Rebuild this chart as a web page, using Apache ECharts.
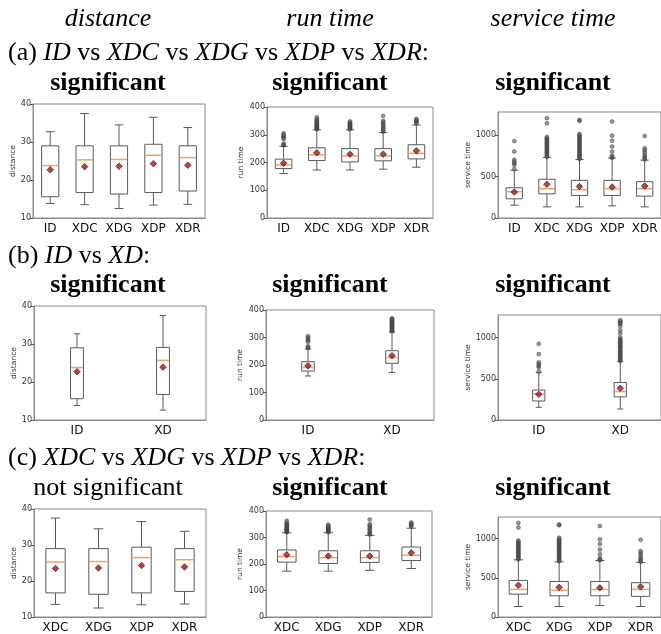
<!DOCTYPE html>
<html>
<head>
<meta charset="utf-8">
<script src="https://cdn.jsdelivr.net/npm/echarts@6/dist/echarts.min.js"></script>
<style>
  html, body { margin: 0; padding: 0; background: #fff; }
  #chart { width: 661px; height: 634px; }
</style>
</head>
<body>
<div id="chart"></div>
<script>
// Groups compared in each row
const groupsAll = ['ID', 'XDC', 'XDG', 'XDP', 'XDR'];
const groupsIdXd = ['ID', 'XD'];
const groupsXd = ['XDC', 'XDG', 'XDP', 'XDR'];

// Box statistics: [low whisker, Q1, median, Q3, high whisker], order ID, XDC, XDG, XDP, XDR
const distanceBoxes = [
  [13.8, 15.6, 23.8, 29.0, 32.7],
  [13.5, 16.7, 25.3, 29.0, 37.5],
  [12.5, 16.3, 25.4, 29.0, 34.5],
  [13.4, 16.7, 26.5, 29.4, 36.5],
  [13.6, 17.1, 25.9, 29.0, 33.8]
];
const distanceMeans = [22.7, 23.5, 23.6, 24.3, 23.9];
const distanceBoxXD = [12.6, 16.7, 25.7, 29.1, 37.5];
const distanceMeanXD = 23.9;

const runBoxes = [
  [160, 178, 191, 212, 258],
  [173, 207, 228, 253, 318],
  [173, 202, 224, 250, 318],
  [176, 206, 224, 250, 308],
  [183, 213, 233, 264, 335]
];
const runMeans = [197, 235, 230, 230, 242];
const runOutliers = [
  [262, 265, 268, 285, 290, 295, 300, 305],
  [320, 322, 325, 328, 331, 334, 337, 340, 344, 348, 352, 356, 363],
  [320, 323, 326, 329, 332, 335, 338, 341, 344, 348],
  [311, 315, 320, 326, 332, 338, 345, 350, 368],
  [341, 345, 349, 353, 357]
];
const runBoxXD = [173, 206, 227, 252, 320];
const runMeanXD = 234;
const runOutliersXD = [322, 325, 328, 331, 334, 337, 340, 343, 346, 349, 352, 355, 358, 361, 364, 367, 370];

const serviceBoxes = [
  [154, 231, 316, 364, 575],
  [134, 291, 352, 466, 729],
  [134, 271, 340, 453, 704],
  [146, 271, 352, 453, 720],
  [134, 263, 352, 437, 696]
];
const serviceMeans = [312, 405, 378, 372, 385];
const serviceOutliers = [
  [590, 640, 660, 680, 700, 800, 925],
  [735, 750, 765, 780, 795, 810, 825, 840, 855, 870, 885, 900, 915, 930, 945, 960, 975, 1140, 1200],
  [710, 725, 740, 755, 770, 785, 800, 815, 830, 845, 860, 875, 890, 905, 920, 935, 950, 965, 980, 995, 1010, 1170, 1180],
  [725, 735, 750, 800, 860, 930, 990, 1160],
  [705, 720, 740, 760, 790, 815, 840, 985]
];
const serviceBoxXD = [134, 280, 345, 455, 712];
const serviceMeanXD = 385;
const serviceOutliersXD = [715, 730, 745, 760, 775, 790, 805, 820, 835, 850, 865, 880, 895, 910, 925, 940, 955, 970, 985, 1000,
  1050, 1090, 1140, 1170, 1180, 1200, 1210];

// Axis ranges and tick values
const distanceTicks = [10, 20, 30, 40];
const runTicks = [0, 100, 200, 300, 400];
const serviceTicks = [0, 500, 1000];
const serviceMax = 1275;

// Each row's text
const rowHeadings = [
  '(a) {i|ID} vs {i|XDC} vs {i|XDG} vs {i|XDP} vs {i|XDR}:',
  '(b) {i|ID} vs {i|XD}:',
  '(c) {i|XDC} vs {i|XDG} vs {i|XDP} vs {i|XDR}:'
];
const columnHeadings = ['distance', 'run time', 'service time'];
const verdicts = [
  ['significant', 'significant', 'significant'],
  ['significant', 'significant', 'significant'],
  ['not significant', 'significant', 'significant']
];

// ---- assemble panels ----
const rows = [
  {
    cats: groupsAll,
    dist: { boxes: distanceBoxes, means: distanceMeans, out: [] },
    run: { boxes: runBoxes, means: runMeans, out: runOutliers },
    svc: { boxes: serviceBoxes, means: serviceMeans, out: serviceOutliers }
  },
  {
    cats: groupsIdXd,
    dist: { boxes: [distanceBoxes[0], distanceBoxXD], means: [distanceMeans[0], distanceMeanXD], out: [] },
    run: { boxes: [runBoxes[0], runBoxXD], means: [runMeans[0], runMeanXD], out: [runOutliers[0], runOutliersXD] },
    svc: { boxes: [serviceBoxes[0], serviceBoxXD], means: [serviceMeans[0], serviceMeanXD], out: [serviceOutliers[0], serviceOutliersXD] }
  },
  {
    cats: groupsXd,
    dist: { boxes: distanceBoxes.slice(1), means: distanceMeans.slice(1), out: [] },
    run: { boxes: runBoxes.slice(1), means: runMeans.slice(1), out: runOutliers.slice(1) },
    svc: { boxes: serviceBoxes.slice(1), means: serviceMeans.slice(1), out: serviceOutliers.slice(1) }
  }
];

const metrics = [
  { key: 'dist', name: 'distance', min: 10, max: 40, ticks: distanceTicks, nameGap: 15 },
  { key: 'run', name: 'run time', min: 0, max: 400, ticks: runTicks, nameGap: 22 },
  { key: 'svc', name: 'service time', min: 0, max: serviceMax, ticks: serviceTicks, nameGap: 24 }
];

// Plot rectangles [left, top, width, height]
const rects = [
  [33, 104, 172, 114], [267, 107, 166, 111], [498, 112, 166, 106],
  [34, 306, 172, 114], [266, 310, 168, 110], [498, 315, 164, 105],
  [34, 509, 172, 113], [266, 511, 166, 111], [498, 517, 164, 105]
];

const SANS = 'DejaVu Sans';
const SERIF = 'Liberation Serif';
const FRAME = '#8a8a8a';
const BOX = '#5a5a5a';
const MEDIAN = '#f7a25c';

const grids = [], xAxes = [], yAxes = [], series = [];

rows.forEach((row, r) => {
  // matplotlib-style box width: 0.15 of the span, clipped to [0.15, 0.5]
  const frac = Math.min(0.5, Math.max(0.15, 0.15 * (row.cats.length - 1)));
  metrics.forEach((m, c) => {
    const i = r * 3 + c;
    const [left, top, width, height] = rects[i];
    grids.push({
      left, top, width, height,
      show: true, borderColor: FRAME, borderWidth: 1, backgroundColor: 'transparent',
      containLabel: false
    });
    xAxes.push({
      type: 'category', gridIndex: i, data: row.cats,
      axisLine: { lineStyle: { color: FRAME, width: 1 } },
      axisTick: { alignWithLabel: true, interval: 0, length: 3, lineStyle: { color: '#555' } },
      axisLabel: { fontFamily: SANS, fontSize: 12, color: '#111', margin: 5, interval: 0, hideOverlap: false },
      splitLine: { show: false }
    });
    yAxes.push({
      type: 'value', gridIndex: i, min: m.min, max: m.max,
      name: m.name, nameLocation: 'middle', nameGap: m.nameGap, nameRotate: 90,
      nameTextStyle: { fontFamily: SANS, fontSize: 7.5, color: '#333' },
      axisLine: { show: true, lineStyle: { color: FRAME, width: 1 } },
      axisTick: { show: true, length: 3, lineStyle: { color: '#555' }, customValues: m.ticks },
      axisLabel: { fontFamily: SANS, fontSize: 8, color: '#333', margin: 2, customValues: m.ticks,
        formatter: v => String(v) },
      splitLine: { show: false }
    });

    const d = row[m.key];
    const boxData = d.boxes.map((b, k) => [k].concat(b));
    series.push({
      type: 'custom', xAxisIndex: i, yAxisIndex: i, silent: true,
      data: boxData,
      encode: { x: 0, y: [1, 2, 3, 4, 5] },
      renderItem: (params, api) => {
        const k = api.value(0);
        const band = api.size([1, 0])[0];
        const w = band * frac;
        const cap = w / 2;
        const lo = api.coord([k, api.value(1)]);
        const q1 = api.coord([k, api.value(2)]);
        const md = api.coord([k, api.value(3)]);
        const q3 = api.coord([k, api.value(4)]);
        const hi = api.coord([k, api.value(5)]);
        const x = lo[0];
        const line = (x1, y1, x2, y2, color, lw) => ({
          type: 'line', shape: { x1, y1, x2, y2 },
          style: { stroke: color, lineWidth: lw }
        });
        return {
          type: 'group',
          children: [
            line(x, q3[1], x, hi[1], BOX, 1),
            line(x, q1[1], x, lo[1], BOX, 1),
            line(x - cap / 2, hi[1], x + cap / 2, hi[1], BOX, 1),
            line(x - cap / 2, lo[1], x + cap / 2, lo[1], BOX, 1),
            {
              type: 'rect',
              shape: { x: x - w / 2, y: q3[1], width: w, height: q1[1] - q3[1] },
              style: { fill: 'rgba(255,255,255,0)', stroke: BOX, lineWidth: 1 }
            },
            line(x - w / 2 + 0.5, md[1], x + w / 2 - 0.5, md[1], MEDIAN, 1.5)
          ]
        };
      },
      z: 2
    });

    const outData = [];
    d.out.forEach((vals, k) => vals.forEach(v => outData.push([k, v])));
    if (outData.length) {
      series.push({
        type: 'scatter', xAxisIndex: i, yAxisIndex: i, silent: true,
        data: outData, symbol: 'circle', symbolSize: 4,
        itemStyle: { color: 'rgba(90,90,90,0.8)', borderColor: '#333', borderWidth: 0.5 },
        z: 3
      });
    }
    series.push({
      type: 'scatter', xAxisIndex: i, yAxisIndex: i, silent: true,
      data: d.means.map((v, k) => [k, v]), symbol: 'diamond', symbolSize: 6.5,
      itemStyle: { color: '#a8141c', borderColor: '#3a0a0a', borderWidth: 0.8 },
      z: 4
    });
  });
});

// ---- headings ----
const graphics = [];
const colCenters = [108, 330, 553];
columnHeadings.forEach((t, c) => {
  graphics.push({
    type: 'text', x: colCenters[c], y: 19, silent: true,
    style: { text: t, align: 'center', verticalAlign: 'middle', fill: '#000',
      font: 'italic 26px "' + SERIF + '"' }
  });
});
const headingY = [53, 256, 458.5];
const verdictY = [83, 285.5, 488];
rowHeadings.forEach((t, r) => {
  graphics.push({
    type: 'text', x: 8, y: headingY[r], silent: true,
    style: {
      text: t, align: 'left', verticalAlign: 'middle', fill: '#000',
      fontFamily: SERIF, fontSize: 26,
      rich: { i: { fontFamily: SERIF, fontSize: 26, fontStyle: 'italic', fill: '#000' } }
    }
  });
  verdicts[r].forEach((v, c) => {
    const bold = v === 'significant';
    graphics.push({
      type: 'text', x: colCenters[c], y: verdictY[r], silent: true,
      style: { text: v, align: 'center', verticalAlign: 'middle', fill: '#000',
        font: (bold ? 'bold ' : '') + '26px "' + SERIF + '"' }
    });
  });
});

const chart = echarts.init(document.getElementById('chart'), null, { renderer: 'canvas' });
chart.setOption({
  animation: false,
  backgroundColor: '#fff',
  grid: grids,
  xAxis: xAxes,
  yAxis: yAxes,
  series: series,
  graphic: graphics
});
</script>
</body>
</html>
